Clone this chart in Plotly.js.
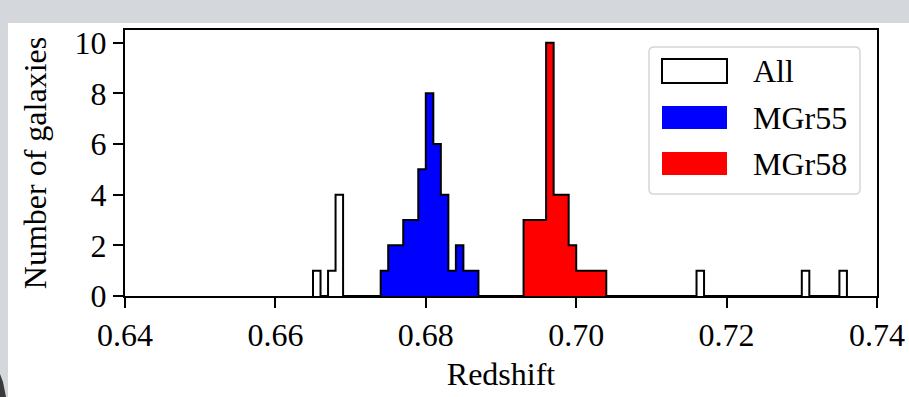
<!DOCTYPE html>
<html>
<head>
<meta charset="utf-8">
<script src="https://cdn.plot.ly/plotly-3.0.1.min.js"></script>
<style>html,body{margin:0;padding:0;background:#d4d8dc;}#chart{width:909px;height:397px;}</style>
</head>
<body>
<div id="chart"></div>
<script>
// ---- data (bin lower edges, width 0.001) ----
const binWidth = 0.001;
const mgr55Edges = [0.674, 0.675, 0.676, 0.677, 0.678, 0.679, 0.680, 0.681, 0.682, 0.683, 0.684, 0.685, 0.686];
const mgr55Counts = [1, 2, 2, 3, 3, 5, 8, 6, 4, 1, 2, 1, 1];
const mgr58Edges = [0.693, 0.694, 0.695, 0.696, 0.697, 0.698, 0.699, 0.700, 0.701, 0.702, 0.703];
const mgr58Counts = [3, 3, 3, 10, 4, 4, 2, 1, 1, 1, 1];
const otherEdges = [0.665, 0.667, 0.668, 0.716, 0.730, 0.735];
const otherCounts = [1, 1, 4, 1, 1, 1];
const allRange = [0.665, 0.736];
const xTicks = [0.64, 0.66, 0.68, 0.70, 0.72, 0.74];
const yTicks = [0, 2, 4, 6, 8, 10];
const legendLabels = ["All", "MGr55", "MGr58"];

// ---- build step paths ----
function stepPath(edges, counts) {
  const x = [edges[0]], y = [0];
  for (let i = 0; i < edges.length; i++) { x.push(edges[i]); y.push(counts[i]); }
  x.push(edges[edges.length - 1] + binWidth); y.push(0);
  return {x, y};
}
// All = every bin in the full range
const nAll = Math.round((allRange[1] - allRange[0]) / binWidth);
const allEdges = [], allCounts = [];
for (let i = 0; i < nAll; i++) {
  const e = +(allRange[0] + i * binWidth).toFixed(3);
  allEdges.push(e);
  allCounts.push(0);
}
function addTo(edges, counts) {
  edges.forEach((e, i) => {
    const k = Math.round((e - allRange[0]) / binWidth);
    allCounts[k] += counts[i];
  });
}
addTo(mgr55Edges, mgr55Counts);
addTo(mgr58Edges, mgr58Counts);
addTo(otherEdges, otherCounts);

const s55 = stepPath(mgr55Edges, mgr55Counts);
const s58 = stepPath(mgr58Edges, mgr58Counts);
const sAll = stepPath(allEdges, allCounts);

const FONT = "Liberation Serif, Times New Roman, serif";
const FS = 32;

const traces = [
  {x: s55.x, y: s55.y, type: 'scatter', mode: 'lines', line: {shape: 'hv', width: 0, color: '#0000ff'},
   fill: 'tozeroy', fillcolor: '#0000ff', name: legendLabels[1], showlegend: false, hoverinfo: 'skip'},
  {x: s58.x, y: s58.y, type: 'scatter', mode: 'lines', line: {shape: 'hv', width: 0, color: '#ff0000'},
   fill: 'tozeroy', fillcolor: '#ff0000', name: legendLabels[2], showlegend: false, hoverinfo: 'skip'},
  {x: sAll.x, y: sAll.y, type: 'scatter', mode: 'lines', line: {shape: 'hv', width: 2, color: '#000000'},
   name: legendLabels[0], showlegend: false, hoverinfo: 'skip'}
];

// pixel helpers for decoration (plot area: x 125..877, y 30..296)
const L = 125, R = 877, T = 30, B = 296;
const px = v => (v - L) / (R - L);
const py = v => (B - v) / (B - T);

function roundRect(x0, y0, x1, y1, r) {
  const P = (x, y) => px(x).toFixed(5) + ',' + py(y).toFixed(5);
  return 'M' + P(x0 + r, y0) + ' L' + P(x1 - r, y0) + ' Q' + P(x1, y0) + ' ' + P(x1, y0 + r) +
    ' L' + P(x1, y1 - r) + ' Q' + P(x1, y1) + ' ' + P(x1 - r, y1) +
    ' L' + P(x0 + r, y1) + ' Q' + P(x0, y1) + ' ' + P(x0, y1 - r) +
    ' L' + P(x0, y0 + r) + ' Q' + P(x0, y0) + ' ' + P(x0 + r, y0) + ' Z';
}

const shapes = [
  {type: 'rect', xref: 'paper', yref: 'paper', x0: px(8), x1: px(915), y0: py(402), y1: py(23),
   fillcolor: '#ffffff', line: {width: 0}, layer: 'below'},
  {type: 'path', xref: 'paper', yref: 'paper',
   path: 'M' + px(0) + ',' + py(374) + ' L' + px(3) + ',' + py(382) + ' L' + px(6) + ',' + py(397) + ' L' + px(0) + ',' + py(397) + ' Z',
   fillcolor: '#3a3a3a', line: {width: 0}, layer: 'above'},
  {type: 'path', xref: 'paper', yref: 'paper', path: roundRect(649, 47, 860, 194, 5),
   fillcolor: 'rgba(255,255,255,0.8)', line: {color: '#d6d6d6', width: 1.5}, layer: 'above'},
  {type: 'rect', xref: 'paper', yref: 'paper', x0: px(662), x1: px(727), y0: py(83), y1: py(59),
   fillcolor: '#ffffff', line: {color: '#000000', width: 2}, layer: 'above'},
  {type: 'rect', xref: 'paper', yref: 'paper', x0: px(662), x1: px(727), y0: py(129), y1: py(106),
   fillcolor: '#0000ff', line: {width: 0}, layer: 'above'},
  {type: 'rect', xref: 'paper', yref: 'paper', x0: px(662), x1: px(727), y0: py(175), y1: py(152),
   fillcolor: '#ff0000', line: {width: 0}, layer: 'above'}
];

const annotations = legendLabels.map((t, i) => ({
  text: t, xref: 'paper', yref: 'paper', x: px(751), y: py([71, 117.5, 163.5][i]),
  xanchor: 'left', yanchor: 'middle', showarrow: false,
  font: {family: FONT, size: FS, color: '#000000'}
}));

const layout = {
  width: 909, height: 397,
  margin: {l: L, r: 909 - R, t: T, b: 397 - B, pad: 0},
  paper_bgcolor: '#d4d8dc',
  plot_bgcolor: '#ffffff',
  showlegend: false,
  font: {family: FONT, size: FS, color: '#000000'},
  xaxis: {
    range: [0.64, 0.74], tickvals: xTicks, ticktext: xTicks.map(v => v.toFixed(2)),
    ticks: 'outside', ticklen: 10, tickwidth: 2, tickcolor: '#000',
    showline: true, linecolor: '#000', linewidth: 2, mirror: true,
    showgrid: false, zeroline: false,
    tickfont: {family: FONT, size: FS},
    title: {text: 'Redshift', font: {family: FONT, size: FS}, standoff: 10}
  },
  yaxis: {
    range: [0, 10.5], tickvals: yTicks, ticktext: yTicks.map(String),
    ticks: 'outside', ticklen: 10, tickwidth: 2, tickcolor: '#000',
    showline: true, linecolor: '#000', linewidth: 2, mirror: true,
    showgrid: false, zeroline: false,
    tickfont: {family: FONT, size: FS},
    title: {text: 'Number of galaxies', font: {family: FONT, size: FS}, standoff: 18}
  },
  shapes: shapes,
  annotations: annotations
};

Plotly.newPlot('chart', traces, layout, {displayModeBar: false, staticPlot: true});
</script>
</body>
</html>
